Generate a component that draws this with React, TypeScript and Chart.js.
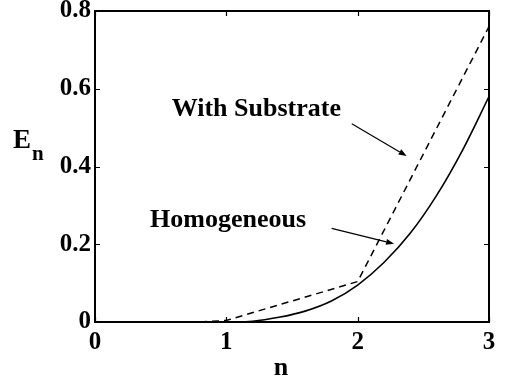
import React, { useEffect, useRef } from "react";
import { Chart, registerables } from "chart.js";

Chart.register(...registerables);

// Energy E_n versus n for the two configurations
const homogeneousN = [1.0, 1.2, 1.4, 1.6, 1.8, 2.0, 2.2, 2.4, 2.6, 2.8, 3.0];
const homogeneousE = [0, 0.002, 0.012, 0.028, 0.054, 0.095, 0.153, 0.228, 0.325, 0.443, 0.58];
const substrateN = [0.8, 1.0, 2.0, 3.0];
const substrateE = [0, 0.004, 0.104, 0.76];

const xTickValues = [0, 1, 2, 3];
const yTickValues = [0, 0.2, 0.4, 0.6, 0.8];

// Annotation labels and their arrows, in data coordinates (n, E)
const labelTexts = ["With Substrate", "Homogeneous"];
const labelAnchors = [
  [0.584, 0.529],
  [0.419, 0.245],
];
const arrowTails = [
  [1.955, 0.51],
  [1.802, 0.241],
];
const arrowHeads = [
  [2.373, 0.427],
  [2.277, 0.201],
];

const FONT = "'Liberation Serif', 'Times New Roman', serif";

const boxPlugin = {
  id: "boxAndNotes",
  afterDraw(chart: any) {
    const { ctx, chartArea } = chart;
    const xs = chart.scales.x;
    const ys = chart.scales.y;
    const { left, right, top, bottom } = chartArea;
    ctx.save();
    ctx.strokeStyle = "#000";
    ctx.fillStyle = "#000";

    // axes box
    ctx.lineWidth = 2;
    ctx.strokeRect(left, top, right - left, bottom - top);

    // inward ticks on all four sides
    const tl = 5;
    ctx.lineWidth = 1.2;
    ctx.beginPath();
    xTickValues.forEach((v) => {
      const px = Math.round(xs.getPixelForValue(v)) + 0.5;
      ctx.moveTo(px, bottom);
      ctx.lineTo(px, bottom - tl);
      ctx.moveTo(px, top);
      ctx.lineTo(px, top + tl);
    });
    yTickValues.forEach((v) => {
      const py = Math.round(ys.getPixelForValue(v)) + 0.5;
      ctx.moveTo(left, py);
      ctx.lineTo(left + tl, py);
      ctx.moveTo(right, py);
      ctx.lineTo(right - tl, py);
    });
    ctx.stroke();

    // arrows
    ctx.lineWidth = 1.2;
    arrowTails.forEach((tail, i) => {
      const head = arrowHeads[i];
      const x0 = xs.getPixelForValue(tail[0]);
      const y0 = ys.getPixelForValue(tail[1]);
      const x1 = xs.getPixelForValue(head[0]);
      const y1 = ys.getPixelForValue(head[1]);
      const ang = Math.atan2(y1 - y0, x1 - x0);
      const hl = 8;
      const hw = 3;
      const bx = x1 - hl * Math.cos(ang);
      const by = y1 - hl * Math.sin(ang);
      ctx.beginPath();
      ctx.moveTo(x0, y0);
      ctx.lineTo(bx, by);
      ctx.stroke();
      ctx.beginPath();
      ctx.moveTo(x1, y1);
      ctx.lineTo(bx + hw * Math.sin(ang), by - hw * Math.cos(ang));
      ctx.lineTo(bx - hw * Math.sin(ang), by + hw * Math.cos(ang));
      ctx.closePath();
      ctx.fill();
    });

    // annotation labels
    ctx.font = `bold 26px ${FONT}`;
    ctx.textAlign = "left";
    ctx.textBaseline = "alphabetic";
    labelTexts.forEach((t, i) => {
      const [n, e] = labelAnchors[i];
      ctx.fillText(t, xs.getPixelForValue(n), ys.getPixelForValue(e));
    });

    // x axis title
    ctx.font = `bold 26px ${FONT}`;
    ctx.textAlign = "center";
    ctx.fillText("n", 281, 375);

    // y axis title with subscript
    ctx.textAlign = "left";
    ctx.font = `bold 27px ${FONT}`;
    ctx.fillText("E", 13, 148);
    ctx.font = `bold 21px ${FONT}`;
    ctx.fillText("n", 32, 160);

    ctx.restore();
  },
};

export default function App() {
  const canvasRef = useRef<HTMLCanvasElement | null>(null);

  useEffect(() => {
    const canvas = canvasRef.current;
    if (!canvas) return;
    const tickFont = { family: FONT, size: 25, weight: "bold" as const };
    const chart = new Chart(canvas, {
      type: "line",
      data: {
        datasets: [
          {
            label: "Homogeneous",
            data: homogeneousN.map((n, i) => ({ x: n, y: homogeneousE[i] })),
            borderColor: "#000",
            borderWidth: 1.6,
            pointRadius: 0,
            cubicInterpolationMode: "monotone",
            fill: false,
          },
          {
            label: "With Substrate",
            data: substrateN.map((n, i) => ({ x: n, y: substrateE[i] })),
            borderColor: "#000",
            borderWidth: 1.5,
            borderDash: [7, 5],
            pointRadius: 0,
            tension: 0,
            fill: false,
          },
        ],
      },
      options: {
        animation: false,
        responsive: false,
        devicePixelRatio: 1,
        layout: { padding: { left: 0, right: 16, top: 11, bottom: 0 } },
        plugins: { legend: { display: false }, tooltip: { enabled: false } },
        scales: {
          x: {
            type: "linear",
            min: 0,
            max: 3,
            afterFit: (s: any) => {
              s.height = 62;
              s.paddingLeft = 0;
              s.paddingRight = 0;
            },
            afterBuildTicks: (s: any) => {
              s.ticks = xTickValues.map((v) => ({ value: v }));
            },
            ticks: {
              color: "#000",
              font: tickFont,
              padding: 6,
              maxRotation: 0,
              callback: (v: any) => String(v),
            },
            grid: { display: false, drawTicks: false },
            border: { display: false },
          },
          y: {
            type: "linear",
            min: 0,
            max: 0.8,
            afterFit: (s: any) => {
              s.width = 95;
              s.paddingTop = 0;
              s.paddingBottom = 0;
            },
            afterBuildTicks: (s: any) => {
              s.ticks = yTickValues.map((v) => ({ value: v }));
            },
            ticks: {
              color: "#000",
              font: tickFont,
              padding: 4,
              callback: (v: any) => String(Math.round(Number(v) * 10) / 10),
            },
            grid: { display: false, drawTicks: false },
            border: { display: false },
          },
        },
      },
      plugins: [boxPlugin],
    });
    return () => chart.destroy();
  }, []);

  return (
    <div style={{ position: "fixed", left: 0, top: 0, width: 505, height: 384, background: "#fff" }}>
      <canvas ref={canvasRef} width={505} height={384} style={{ display: "block" }} />
    </div>
  );
}
